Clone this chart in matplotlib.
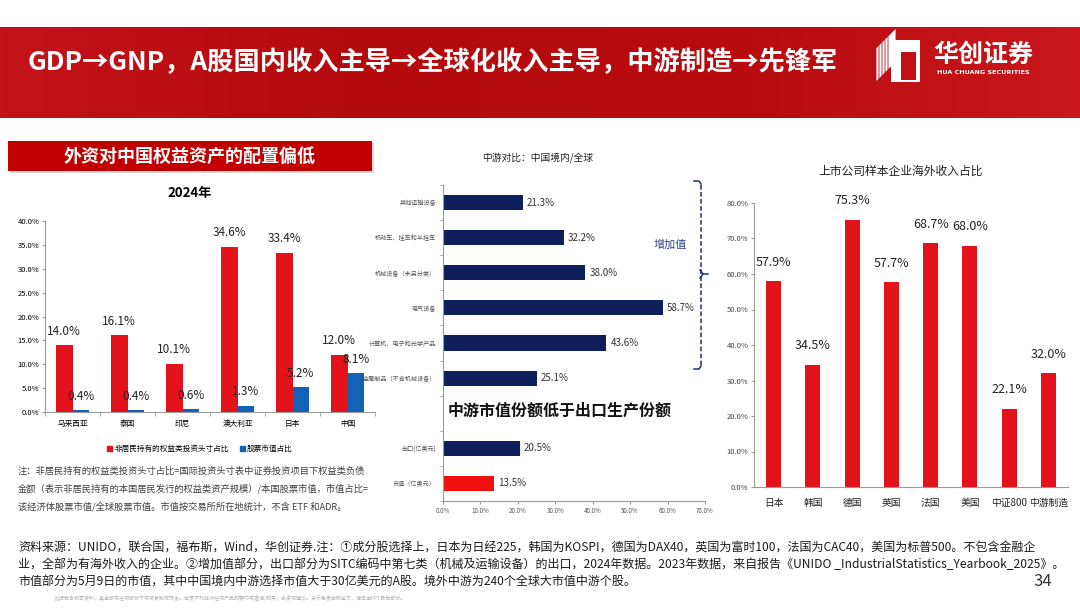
import matplotlib.pyplot as plt
import numpy as np
from matplotlib.patches import Rectangle, Polygon
from matplotlib.lines import Line2D
from matplotlib.colors import LinearSegmentedColormap

plt.rcParams['font.family'] = ['Noto Sans CJK SC', 'DejaVu Sans']
NUM_FONT = ['Liberation Sans Narrow', 'Noto Sans CJK SC', 'DejaVu Sans']

# ---- data ----
left_cats = ['马来西亚', '泰国', '印尼', '澳大利亚', '日本', '中国']
nonres_share = [14.0, 16.1, 10.1, 34.6, 33.4, 12.0]     # 非居民持有的权益类投资头寸占比
mktcap_share = [0.4, 0.4, 0.6, 1.3, 5.2, 8.1]          # 股票市值占比

mid_cats = ['其他运输设备', '机动车、挂车和半挂车', '机械设备（未另分类）', '电气设备',
            '计算机、电子和光学产品', '金属制品（不含机械设备）', '',
            '出口(亿美元)', '市值（亿美元）']
mid_vals = [21.3, 32.2, 38.0, 58.7, 43.6, 25.1, np.nan, 20.5, 13.5]

right_cats = ['日本', '韩国', '德国', '英国', '法国', '美国', '中证800', '中游制造']
overseas_rev = [57.9, 34.5, 75.3, 57.7, 68.7, 68.0, 22.1, 32.0]

RED = '#E3121B'
BLUE = '#1262B5'
NAVY = '#0E1F5B'
AX_GREY = '#9A9A9A'

W, H = 1080, 608
fig = plt.figure(figsize=(10.8, 6.08), dpi=100)


def box(l, t, r, b):
    return [l / W, 1 - b / H, (r - l) / W, (b - t) / H]


def fx(x):
    return x / W


def fy(y):
    return 1 - y / H


# ---- header band ----
ax_h = fig.add_axes(box(0, 27, 1080, 118))
grad = np.linspace(0, 1, 256).reshape(1, -1)
cm = LinearSegmentedColormap.from_list('hdr', ['#C4121A', '#B40A0E', '#B70B0F', '#C9171C'])
ax_h.imshow(grad, cmap=cm, aspect='auto', extent=[0, 1, 0, 1])
ax_h.axis('off')
fig.text(fx(28), fy(63), 'GDP→GNP，A股国内收入主导→全球化收入主导，中游制造→先锋军',
         color='white', fontsize=18.9, fontweight='bold', va='center', ha='left')

# logo
for k in range(5):
    off = k * 3
    fig.add_artist(Polygon([(fx(876 + off), fy(82 - off)), (fx(876 + off), fy(48 - off)),
                            (fx(884 + off), fy(40 - off)), (fx(884 + off), fy(74 - off))],
                           closed=True, facecolor='white', edgecolor='#C01016', lw=0.6,
                           transform=fig.transFigure))
fig.add_artist(Rectangle((fx(891), fy(82)), (920 - 891) / W, (82 - 40) / H,
                         facecolor='white', edgecolor='none', transform=fig.transFigure))
fig.add_artist(Rectangle((fx(901), fy(80)), (916 - 901) / W, (80 - 52) / H,
                         facecolor='#C01016', edgecolor='none', transform=fig.transFigure))
fig.text(fx(983), fy(55), '华创证券', color='white', fontsize=18, fontweight='bold',
         ha='center', va='center')
fig.text(fx(983), fy(73), 'HUA CHUANG SECURITIES', color='white', fontsize=4.6,
         fontweight='bold', ha='center', va='center', family=['DejaVu Sans'])

# ---- left panel subtitle box ----
fig.add_artist(Rectangle((fx(10), fy(173)), 364 / W, 30 / H, facecolor='#D8D8D8',
                         edgecolor='none', transform=fig.transFigure))
fig.add_artist(Rectangle((fx(8), fy(171)), 364 / W, 30 / H, facecolor='#C00000',
                         edgecolor='none', transform=fig.transFigure))
fig.text(fx(190), fy(156), '外资对中国权益资产的配置偏低', color='white', fontsize=13,
         fontweight='bold', ha='center', va='center')

# ---- left chart ----
ax1 = fig.add_axes(box(45, 221, 375, 412))
x = np.arange(len(left_cats))
w = 0.3
ax1.bar(x - w / 2, nonres_share, w, color=RED)
ax1.bar(x + w / 2, mktcap_share, w, color=BLUE)
for i in range(len(left_cats)):
    ax1.annotate(f'{nonres_share[i]:.1f}%', (x[i] - w / 2, nonres_share[i]), xytext=(0, 10),
                 textcoords='offset points', ha='center', va='center', fontsize=8.5,
                 family=NUM_FONT, color='#222222')
    ax1.annotate(f'{mktcap_share[i]:.1f}%', (x[i] + w / 2, mktcap_share[i]), xytext=(0, 10),
                 textcoords='offset points', ha='center', va='center', fontsize=8.5,
                 family=NUM_FONT, color='#222222')
ax1.set_xlim(-0.5, len(left_cats) - 0.5)
ax1.set_ylim(0, 40)
ax1.set_yticks(np.arange(0, 41, 5))
ax1.set_yticklabels([f'{v:.1f}%' for v in np.arange(0, 41, 5)], fontsize=5.5, family=NUM_FONT)
ax1.set_xticks(x)
ax1.set_xticklabels(left_cats, fontsize=5.5)
ax1.set_xticks(np.arange(-0.5, len(left_cats), 1), minor=True)
ax1.tick_params(axis='x', which='major', length=0, pad=6)
ax1.tick_params(axis='x', which='minor', length=3, color=AX_GREY)
ax1.tick_params(axis='y', length=2, color=AX_GREY, pad=2)
for s in ['top', 'right']:
    ax1.spines[s].set_visible(False)
for s in ['left', 'bottom']:
    ax1.spines[s].set_color(AX_GREY)
    ax1.spines[s].set_linewidth(0.8)
fig.text(fx(190), fy(193), '2024年', fontsize=9.5, fontweight='bold', ha='center', va='center')
fig.legend(handles=[Rectangle((0, 0), 1, 1, color=RED), Rectangle((0, 0), 1, 1, color=BLUE)],
           labels=['非居民持有的权益类投资头寸占比', '股票市值占比'], loc='center',
           bbox_to_anchor=(fx(200), fy(449)), ncol=2, frameon=False, fontsize=5.5,
           handlelength=0.6, handleheight=0.6, handletextpad=0.3, columnspacing=1.5)

notes = ['注：非居民持有的权益类投资头寸占比=国际投资头寸表中证券投资项目下权益类负债',
         '金额（表示非居民持有的本国居民发行的权益类资产规模）/本国股票市值，市值占比=',
         '该经济体股票市值/全球股票市值。市值按交易所所在地统计，不含 ETF 和ADR。']
for k, line in enumerate(notes):
    fig.text(fx(18), fy(471 + k * 18), line, fontsize=6.7, color='#404040', va='center')

# ---- middle chart ----
ax2 = fig.add_axes(box(443, 185, 705, 501))
ym = np.arange(len(mid_cats))
mid_colors = [NAVY] * (len(mid_cats) - 1) + ['#F01010']
ax2.barh(ym, mid_vals, 0.43, color=mid_colors)
for i, v in enumerate(mid_vals):
    if np.isnan(v):
        continue
    ax2.annotate(f'{v:.1f}%', (v, ym[i]), xytext=(3, 0), textcoords='offset points',
                 ha='left', va='center', fontsize=7, family=NUM_FONT, color='#333333')
ax2.set_ylim(len(mid_cats) - 0.5, -0.5)
ax2.set_xlim(0, 70)
ax2.set_xticks(np.arange(0, 71, 10))
ax2.set_xticklabels([f'{v:.1f}%' for v in np.arange(0, 71, 10)], fontsize=4.5, family=NUM_FONT,
                    color='#555555')
ax2.set_yticks(ym)
ax2.set_yticklabels(mid_cats, fontsize=4.4, color='#555555')
ax2.set_yticks(np.arange(-0.5, len(mid_cats), 1), minor=True)
ax2.tick_params(axis='y', which='major', length=0, pad=5)
ax2.tick_params(axis='y', which='minor', length=2.5, color=AX_GREY)
ax2.tick_params(axis='x', length=2, color=AX_GREY, pad=2)
for s in ['top', 'right']:
    ax2.spines[s].set_visible(False)
for s in ['left', 'bottom']:
    ax2.spines[s].set_color(AX_GREY)
    ax2.spines[s].set_linewidth(0.8)
fig.text(fx(538), fy(158), '中游对比：中国境内/全球', fontsize=7, ha='center', va='center',
         color='#222222')
fig.text(fx(560), fy(411), '中游市值份额低于出口生产份额', fontsize=11.5, fontweight='bold',
         ha='center', va='center', color='#111111')
fig.text(fx(670), fy(245), '增加值', fontsize=8, ha='center', va='center', color='#2B437F')

# dashed bracket for 增加值
br = dict(color='#1F2F6F', lw=1.1, transform=fig.transFigure)
fig.add_artist(Line2D([fx(701), fx(701)], [fy(185), fy(366)], linestyle=(0, (3, 1.6)), **br))
fig.add_artist(Line2D([fx(694), fx(699), fx(701)], [fy(181), fy(181), fy(184)], **br))
fig.add_artist(Line2D([fx(694), fx(699), fx(701)], [fy(369), fy(369), fy(366)], **br))
fig.add_artist(Line2D([fx(700), fx(703), fx(700)], [fy(270), fy(274), fy(278)], **br))
fig.add_artist(Line2D([fx(703), fx(708)], [fy(274), fy(274)], **br))

# ---- right chart ----
ax3 = fig.add_axes(box(754, 203, 1068, 487))
xr = np.arange(len(right_cats))
ax3.bar(xr, overseas_rev, 0.38, color=RED)
for i, v in enumerate(overseas_rev):
    ax3.annotate(f'{v:.1f}%', (xr[i], v), xytext=(0, 13.5), textcoords='offset points',
                 ha='center', va='center', fontsize=9, family=NUM_FONT, color='#222222')
ax3.set_xlim(-0.5, len(right_cats) - 0.5)
ax3.set_ylim(0, 80)
ax3.set_yticks(np.arange(0, 81, 10))
ax3.set_yticklabels([f'{v:.1f}%' for v in np.arange(0, 81, 10)], fontsize=5.5, family=NUM_FONT,
                    color='#444444')
ax3.set_xticks(xr)
ax3.set_xticklabels(right_cats, fontsize=7, color='#222222')
ax3.tick_params(axis='x', length=0, pad=8)
ax3.tick_params(axis='y', length=2, color=AX_GREY, pad=2)
for s in ['top', 'right']:
    ax3.spines[s].set_visible(False)
for s in ['left', 'bottom']:
    ax3.spines[s].set_color(AX_GREY)
    ax3.spines[s].set_linewidth(0.8)
fig.text(fx(901), fy(171), '上市公司样本企业海外收入占比', fontsize=8.5, ha='center', va='center',
         color='#222222')

# ---- footer ----
footer = ['资料来源：UNIDO，联合国，福布斯，Wind，华创证券.注：①成分股选择上，日本为日经225，韩国为KOSPI，德国为DAX40，英国为富时100，法国为CAC40，美国为标普500。不包含金融企',
          '业，全部为有海外收入的企业。②增加值部分，出口部分为SITC编码中第七类（机械及运输设备）的出口，2024年数据。2023年数据，来自报告《UNIDO _IndustrialStatistics_Yearbook_2025》。',
          '市值部分为5月9日的市值，其中中国境内中游选择市值大于30亿美元的A股。境外中游为240个全球大市值中游个股。']
for k, line in enumerate(footer):
    fig.text(fx(18), fy(548 + k * 17), line, fontsize=8.65, color='#1A1A1A', va='center')
fig.text(fx(55), fy(598), '此报告含机密资料，其全部或任何部分不可被复制或转发。本页不构成对任何产品的要约或邀请/购买，投资或建议。关于免责声明全文，请见本PPT最后部分。',
         fontsize=3.6, color='#B0B0B0', va='center')
fig.text(fx(1043), fy(581), '34', fontsize=12, color='#333333', ha='center', va='center')

fig.savefig('out.png', dpi=100)
